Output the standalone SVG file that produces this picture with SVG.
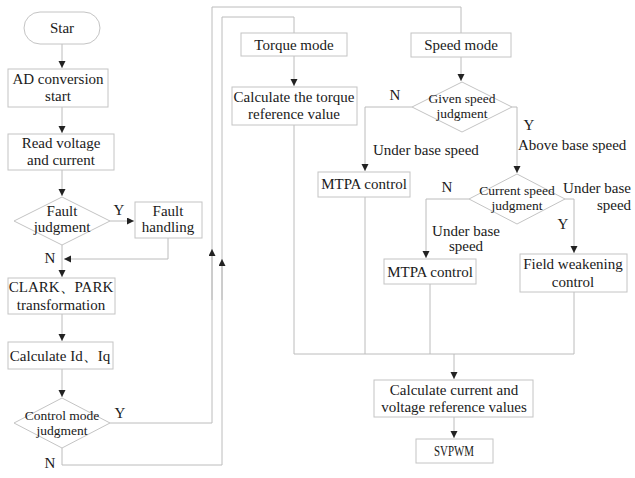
<svg xmlns="http://www.w3.org/2000/svg" width="635" height="478" viewBox="0 0 635 478">
<style>
.box{fill:#fff;stroke:#c4c4c4;stroke-width:1}
.ln{fill:none;stroke:#bcbcbc;stroke-width:1}
text{font-family:"Liberation Serif","Times New Roman",serif;font-size:15px;fill:#1a1a1a;text-anchor:middle}
.sm{font-size:13.5px}
.st{text-anchor:start}
</style>
<defs>
<marker id="ah" markerUnits="userSpaceOnUse" markerWidth="8" markerHeight="8" refX="7" refY="3.5" orient="auto">
<path d="M0,0 L7,3.5 L0,7 z" fill="#222"/>
</marker>
</defs>
<rect width="635" height="478" fill="#fff"/>
<g id="connectors">
<path class="ln" d="M62,44 V68" marker-end="url(#ah)"/>
<path class="ln" d="M62,107 V133" marker-end="url(#ah)"/>
<path class="ln" d="M62,170 V196" marker-end="url(#ah)"/>
<path class="ln" d="M110,221 H134" marker-end="url(#ah)"/>
<path class="ln" d="M168,238 V259 H64" marker-end="url(#ah)"/>
<path class="ln" d="M62,245 V277" marker-end="url(#ah)"/>
<path class="ln" d="M62,314 V341" marker-end="url(#ah)"/>
<path class="ln" d="M62,369 V397" marker-end="url(#ah)"/>
<path class="ln" d="M110,423 H212 V7 H461 V33"/>
<path class="ln" d="M212,300 V249" marker-end="url(#ah)"/>
<path class="ln" d="M62,448 V465 H222 V17 H294 V33"/>
<path class="ln" d="M222,300 V259" marker-end="url(#ah)"/>
<path class="ln" d="M294,56 V86" marker-end="url(#ah)"/>
<path class="ln" d="M461,57 V81" marker-end="url(#ah)"/>
<path class="ln" d="M412,107 H365 V171" marker-end="url(#ah)"/>
<path class="ln" d="M512,107 H517 V173" marker-end="url(#ah)"/>
<path class="ln" d="M469,199 H426 V258" marker-end="url(#ah)"/>
<path class="ln" d="M565,199 H574 V253" marker-end="url(#ah)"/>
<path class="ln" d="M294,125 V354 H574 V292"/>
<path class="ln" d="M365,197 V354"/>
<path class="ln" d="M430,284 V354"/>
<path class="ln" d="M454,354 V379" marker-end="url(#ah)"/>
<path class="ln" d="M454,417 V438" marker-end="url(#ah)"/>
</g>
<g id="labels">
<text x="119" y="215">Y</text>
<text x="50" y="263">N</text>
<text x="120" y="418">Y</text>
<text x="50" y="468">N</text>
<text x="395" y="100">N</text>
<text x="529" y="130">Y</text>
<text class="st" x="373" y="155">Under base speed</text>
<text class="st" x="518" y="150">Above base speed</text>
<text x="447" y="192">N</text>
<text x="466" y="236">Under base</text>
<text x="466" y="251">speed</text>
<text x="597" y="193">Under base</text>
<text x="614" y="210">speed</text>
<text x="563" y="229">Y</text>
</g>
<g id="start"><rect class="box" x="24" y="12" width="76" height="32" rx="16"/><text x="62" y="33">Star</text></g>
<g id="ad"><rect class="box" x="8" y="69" width="100" height="38"/><text x="58" y="84">AD conversion</text><text x="58" y="101">start</text></g>
<g id="read"><rect class="box" x="8" y="134" width="106" height="36"/><text x="61" y="148">Read voltage</text><text x="61" y="165">and current</text></g>
<g id="fault"><polygon class="box" points="62,197 110,221 62,245 14,221"/><text x="62" y="216">Fault</text><text x="62" y="232">judgment</text></g>
<g id="faulthandling"><rect class="box" x="135" y="202" width="67" height="36"/><text x="168" y="216">Fault</text><text x="168" y="232">handling</text></g>
<g id="clark"><rect class="box" x="8" y="278" width="107" height="36"/><text x="61" y="292">CLARK、PARK</text><text x="61" y="310">transformation</text></g>
<g id="calcid"><rect class="box" x="8" y="342" width="105" height="27"/><text x="60" y="361">Calculate Id、Iq</text></g>
<g id="controlmode"><polygon class="box" points="62,398 110,423 62,448 14,423"/><text class="sm" x="62" y="420">Control mode</text><text class="sm" x="62" y="435">judgment</text></g>
<g id="torquemode"><rect class="box" x="241" y="33" width="106" height="23"/><text x="294" y="50">Torque mode</text></g>
<g id="calctorque"><rect class="box" x="232" y="87" width="125" height="38"/><text x="294" y="102">Calculate the torque</text><text x="294" y="119">reference value</text></g>
<g id="speedmode"><rect class="box" x="411" y="33" width="100" height="24"/><text x="461" y="50">Speed mode</text></g>
<g id="givenspeed"><polygon class="box" points="462,82 512,107 462,132 412,107"/><text class="sm" x="462" y="103">Given speed</text><text class="sm" x="462" y="118">judgment</text></g>
<g id="mtpa1"><rect class="box" x="318" y="172" width="92" height="25"/><text x="364" y="189">MTPA control</text></g>
<g id="currentspeed"><polygon class="box" points="517,174 565,199 517,224 469,199"/><text class="sm" x="517" y="195">Current speed</text><text class="sm" x="517" y="210">judgment</text></g>
<g id="mtpa2"><rect class="box" x="384" y="259" width="92" height="25"/><text x="430" y="277">MTPA control</text></g>
<g id="fieldweakening"><rect class="box" x="520" y="254" width="107" height="38"/><text x="573" y="269">Field weakening</text><text x="573" y="287">control</text></g>
<g id="calcref"><rect class="box" x="374" y="380" width="159" height="37"/><text x="454" y="395">Calculate current and</text><text x="454" y="412">voltage reference values</text></g>
<g id="svpwm"><rect class="box" x="416" y="439" width="77" height="24"/><text x="454" y="456" font-size="13" textLength="40" lengthAdjust="spacingAndGlyphs">SVPWM</text></g>
</svg>
